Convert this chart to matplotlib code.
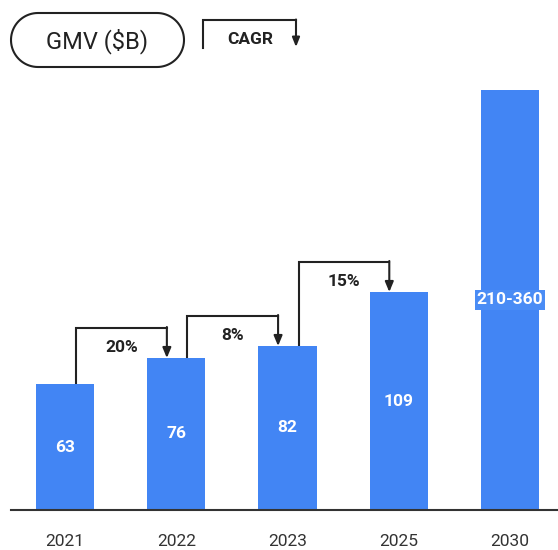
import numpy as np
import matplotlib.pyplot as plt
from matplotlib.patches import Polygon

plt.rcParams['font.family'] = ['Roboto', 'DejaVu Sans']

years = ["2021", "2022", "2023", "2025", "2030"]
gmv = [63, 76, 82, 109, 210]
value_labels = ["63", "76", "82", "109", "210-360"]

# CAGR brackets: (from bar, to bar, label)
cagr_pairs = [(0, 1, "20%"), (1, 2, "8%"), (2, 3, "15%")]

BLUE = "#4285F4"
DARK = "#222222"

fig = plt.figure(figsize=(5.58, 5.5), dpi=100)
ax = fig.add_axes([11 / 558, 40 / 550, 547 / 558, 430 / 550])

x = list(range(len(years)))
ax.bar(x, gmv, width=0.5225, color=BLUE, zorder=2)
ax.set_xlim(-0.4865, 4.432)
ax.set_ylim(0, 215)

for i, (v, lab) in enumerate(zip(gmv, value_labels)):
    box = None
    if "-" in lab:
        box = dict(boxstyle="square,pad=0.12", facecolor="#4a8cf5", edgecolor="none")
    ax.text(i, v / 2, lab, ha="center", va="center", color="white",
            fontsize=12.5, fontweight="bold", bbox=box, zorder=3)

# bracket arrows between consecutive bars
for a, b, lab in cagr_pairs:
    top = gmv[b] + 15
    x0 = a + 0.1
    x1 = b - 0.085
    ax.plot([x0, x0, x1], [gmv[a], top, top], color=DARK, lw=1.5,
            solid_joinstyle="miter", zorder=1)
    ax.annotate("", xy=(x1, gmv[b]), xytext=(x1, top + 0.5),
                arrowprops=dict(arrowstyle="-|>,head_width=0.25,head_length=0.6",
                                color=DARK, lw=1.5, shrinkA=0, shrinkB=0))
    ax.text((x0 + x1) / 2, top - 10, lab, ha="center", va="center",
            fontsize=12.5, fontweight="bold", color=DARK)

ax.set_xticks(x)
ax.set_xticklabels(years, fontsize=12.5, color="#333333")
ax.tick_params(axis="x", length=0, pad=17)
ax.set_yticks([])
for side in ["top", "left", "right"]:
    ax.spines[side].set_visible(False)
ax.spines["bottom"].set_color("#333333")
ax.spines["bottom"].set_linewidth(1.5)

# header drawn in pixel space
hdr = fig.add_axes([0, 0, 1, 1], zorder=5)
hdr.set_xlim(0, 558)
hdr.set_ylim(550, 0)
hdr.axis("off")

# pill outline with semicircular ends
r, cy, xl, xr = 27, 40, 38, 157
t = np.linspace(np.pi / 2, 3 * np.pi / 2, 40)
left = np.column_stack([xl + r * np.cos(t), cy - r * np.sin(t)])
right = np.column_stack([xr - r * np.cos(t), cy + r * np.sin(t)])
hdr.add_patch(Polygon(np.vstack([left, right]), closed=True, facecolor="white",
                      edgecolor=DARK, lw=1.5))
hdr.text(97, 41, "GMV ($B)", ha="center", va="center", fontsize=17, color=DARK)

hdr.plot([203, 203, 296], [48, 20, 20], color=DARK, lw=1.5, solid_joinstyle="miter")
hdr.annotate("", xy=(296, 47), xytext=(296, 19.5),
             arrowprops=dict(arrowstyle="-|>,head_width=0.22,head_length=0.55",
                             color=DARK, lw=1.5, shrinkA=0, shrinkB=0))
hdr.text(250, 40, "CAGR", ha="center", va="center", fontsize=12.5,
         fontweight="bold", color=DARK)

fig.savefig("out.png", dpi=100, facecolor="white")
